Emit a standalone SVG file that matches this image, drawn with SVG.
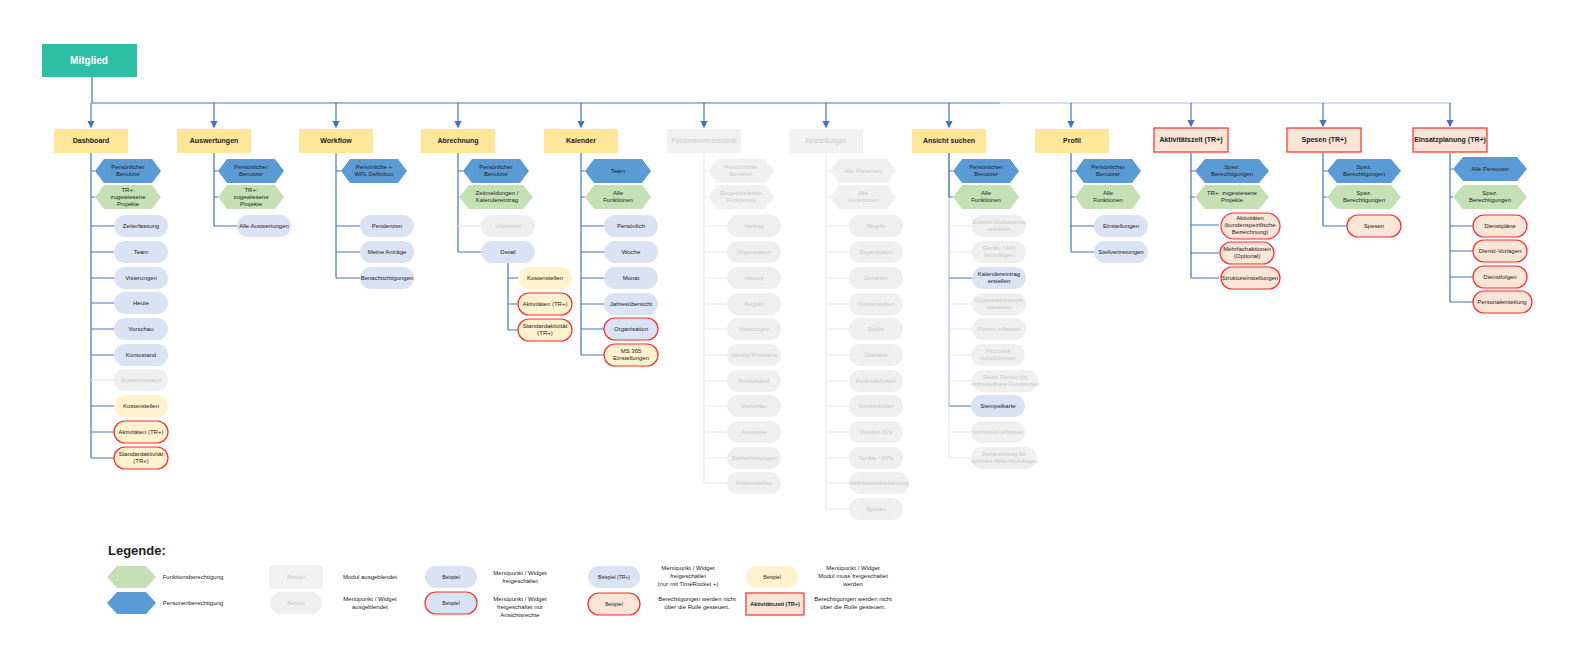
<svg xmlns="http://www.w3.org/2000/svg" xmlns:xlink="http://www.w3.org/1999/xlink" width="1576" height="666" viewBox="0 0 1576 666">
<style>
text{font-family:"Liberation Sans",Arial,sans-serif;font-size:6px;text-anchor:middle;fill:#222}
.h text,text.b{font-weight:bold;font-size:7px}
.hy{fill:#ffe699}.hg{fill:#f2f2f2}.hr{fill:#fbe5d6;stroke:#ff2a2a;stroke-width:1.2}
.hb{fill:#5b9bd5}.hgr{fill:#c5e0b4}.hgy{fill:#f0f0f0}
.pb{fill:#dae3f3}.pg{fill:#efefef}.py{fill:#fff2cc}.pr{fill:#fbe5d6;stroke:#ff2a2a;stroke-width:1.2}
.pbr{fill:#dae3f3;stroke:#ff2a2a;stroke-width:1.2}.pyr{fill:#fff2cc;stroke:#ff2a2a;stroke-width:1.2}
text.g{fill:#c8c8c8}
#c line,#c path{stroke:#4472c4;stroke-width:1.2;fill:none}
#c .l{stroke:#a9bde6}#c .x{stroke:#e8e8e8}
</style>
<defs>
<polygon id="hx" points="-33,0 -24,-12 24,-12 33,0 24,12 -24,12"/>
<polygon id="hw" points="-37,0 -27,-12 27,-12 37,0 27,12 -27,12"/>
<rect id="pl" x="-27" y="-11" width="54" height="22" rx="11"/>
<rect id="pw" x="-31" y="-13" width="62" height="26" rx="13"/>
<marker id="ar" markerWidth="6" markerHeight="6" refX="5" refY="3" orient="auto"><path d="M0,0L6,3L0,6z" fill="#4472c4"/></marker>
</defs>
<rect width="1576" height="666" fill="#fff"/>
<g id="c">
<line x1="92" y1="77" x2="92" y2="103"/>
<line x1="92" y1="103" x2="1000" y2="103"/>
<line class="l" x1="1000" y1="103" x2="1450" y2="103"/>
<line x1="91" y1="103" x2="91" y2="127" marker-end="url(#ar)"/>
<line x1="214" y1="103" x2="214" y2="127" marker-end="url(#ar)"/>
<line x1="336" y1="103" x2="336" y2="127" marker-end="url(#ar)"/>
<line x1="458" y1="103" x2="458" y2="127" marker-end="url(#ar)"/>
<line x1="581" y1="103" x2="581" y2="127" marker-end="url(#ar)"/>
<line x1="704" y1="103" x2="704" y2="127" marker-end="url(#ar)"/>
<line x1="826" y1="103" x2="826" y2="127" marker-end="url(#ar)"/>
<line x1="949" y1="103" x2="949" y2="127" marker-end="url(#ar)"/>
<line x1="1071" y1="103" x2="1071" y2="127" marker-end="url(#ar)"/>
<line x1="1191" y1="103" x2="1191" y2="126" marker-end="url(#ar)"/>
<line x1="1323" y1="103" x2="1323" y2="126" marker-end="url(#ar)"/>
<line x1="1450" y1="103" x2="1450" y2="126" marker-end="url(#ar)"/>
<path d="M91,153V458M91,171H95M91,197H95M91,226H114M91,252H114M91,278H114M91,303H114M91,329H114M91,355H114M91,406H114M91,432H114M91,458H114"/>
<line class="x" x1="91" y1="380" x2="114" y2="380"/>
<path d="M214,153V226M214,171H218M214,197H218M214,226H237"/>
<path d="M336,153V278M336,171H341M336,226H360M336,252H360M336,278H360"/>
<path d="M458,153V252M458,171H463M458,197H459M458,252H481M508,263V330M508,278H518M508,304H518M508,330H518"/>
<line class="x" x1="458" y1="226" x2="481" y2="226"/>
<path d="M581,153V355M581,171H585M581,197H585M581,226H604M581,252H604M581,278H604M581,304H604M581,329H604M581,355H604"/>
<path class="x" d="M704,153V483M704,171H708M704,197H708M704,226H727M704,252H727M704,278H727M704,304H727M704,329H727M704,355H727M704,381H727M704,406H727M704,432H727M704,458H727M704,483H727"/>
<path class="x" d="M826,153V509M826,171H830M826,197H830M826,226H849M826,252H849M826,278H849M826,304H849M826,329H849M826,355H849M826,381H849M826,406H849M826,432H849M826,458H849M826,483H849M826,509H849"/>
<path class="l" d="M949,153V406"/>
<path d="M949,153V197M949,171H953M949,197H953M949,278H972M949,406H972"/>
<path class="x" d="M949,406V458M949,226H972M949,252H972M949,304H972M949,329H972M949,355H972M949,381H972M949,432H972M949,458H972"/>
<path d="M1071,153V252M1071,171H1075M1071,197H1075M1071,226H1094M1071,252H1094"/>
<path d="M1191,153V278M1191,171H1195M1191,197H1195M1191,225H1219M1191,253H1219M1191,278H1219"/>
<path d="M1323,153V226M1323,171H1327M1323,197H1327M1323,226H1347"/>
<path d="M1450,153V302M1450,169H1453M1450,197H1453M1450,226H1473M1450,251H1473M1450,277H1473M1450,302H1473"/>
</g>
<g id="mitglied"><rect x="42" y="44" width="95" height="33" fill="#2dbfa5"/><text x="89" y="64" style="font-size:10px;font-weight:bold;fill:#fff">Mitglied</text></g>
<g class="h">
<g id="h-dashboard"><rect class="hy" x="54" y="129" width="74" height="24"/><text x="91" y="143">Dashboard</text></g>
<g id="h-auswertungen"><rect class="hy" x="177" y="129" width="74" height="24"/><text x="214" y="143">Auswertungen</text></g>
<g id="h-workflow"><rect class="hy" x="299" y="129" width="74" height="24"/><text x="336" y="143">Workflow</text></g>
<g id="h-abrechnung"><rect class="hy" x="421" y="129" width="74" height="24"/><text x="458" y="143">Abrechnung</text></g>
<g id="h-kalender"><rect class="hy" x="544" y="129" width="74" height="24"/><text x="581" y="143">Kalender</text></g>
<g id="h-personen"><rect class="hg" x="667" y="129" width="74" height="24"/><text class="g" x="704" y="143" style="font-weight:normal">Personenverzeichnis</text></g>
<g id="h-einstellungen"><rect class="hg" x="789" y="129" width="74" height="24"/><text class="g" x="826" y="143" style="font-weight:normal">Einstellungen</text></g>
<g id="h-ansicht"><rect class="hy" x="912" y="129" width="74" height="24"/><text x="949" y="143">Ansicht suchen</text></g>
<g id="h-profil"><rect class="hy" x="1035" y="129" width="74" height="24"/><text x="1072" y="143">Profil</text></g>
<g id="h-aktiv"><rect class="hr" x="1154" y="128" width="74" height="24"/><text x="1191" y="142">Aktivitätszeit (TR+)</text></g>
<g id="h-spesen"><rect class="hr" x="1287" y="128" width="74" height="24"/><text x="1324" y="142">Spesen (TR+)</text></g>
<g id="h-einsatz"><rect class="hr" x="1413" y="128" width="74" height="24"/><text x="1450" y="142">Einsatzplanung (TR+)</text></g>
</g>
<!-- Dashboard -->
<g id="d1"><use href="#hx" class="hb" x="128" y="171"/><text x="128" y="169">Persönlicher<tspan x="128" dy="7">Benutzer</tspan></text></g>
<g id="d2"><use href="#hx" class="hgr" x="128" y="197"/><text x="128" y="192">TR+:<tspan x="128" dy="7">zugewiesene</tspan><tspan x="128" dy="7">Projekte</tspan></text></g>
<g id="d3"><use href="#pl" class="pb" x="141" y="226"/><text x="141" y="228">Zeiterfassung</text></g>
<g id="d4"><use href="#pl" class="pb" x="141" y="252"/><text x="141" y="254">Team</text></g>
<g id="d5"><use href="#pl" class="pb" x="141" y="278"/><text x="141" y="280">Visierungen</text></g>
<g id="d6"><use href="#pl" class="pb" x="141" y="303"/><text x="141" y="305">Heute</text></g>
<g id="d7"><use href="#pl" class="pb" x="141" y="329"/><text x="141" y="331">Vorschau</text></g>
<g id="d8"><use href="#pl" class="pb" x="141" y="355"/><text x="141" y="357">Kontostand</text></g>
<g id="d9"><use href="#pl" class="pg" x="141" y="380"/><text class="g" x="141" y="382">Systemzustand</text></g>
<g id="d10"><use href="#pl" class="py" x="141" y="406"/><text x="141" y="408">Kostenstellen</text></g>
<g id="d11"><use href="#pl" class="pyr" x="141" y="432"/><text x="141" y="434">Aktivitäten (TR+)</text></g>
<g id="d12"><use href="#pl" class="pyr" x="141" y="458"/><text x="141" y="456">Standardaktivität<tspan x="141" dy="7">(TR+)</tspan></text></g>
<!-- Auswertungen -->
<g id="a1"><use href="#hx" class="hb" x="251" y="171"/><text x="251" y="169">Persönlicher<tspan x="251" dy="7">Benutzer</tspan></text></g>
<g id="a2"><use href="#hx" class="hgr" x="251" y="197"/><text x="251" y="192">TR+:<tspan x="251" dy="7">zugewiesene</tspan><tspan x="251" dy="7">Projekte</tspan></text></g>
<g id="a3"><use href="#pl" class="pb" x="264" y="226"/><text x="264" y="228">Alle Auswertungen</text></g>
<!-- Workflow -->
<g id="w1"><use href="#hx" class="hb" x="374" y="171"/><text x="374" y="169">Persönliche +<tspan x="374" dy="7">WFL Definition</tspan></text></g>
<g id="w2"><use href="#pl" class="pb" x="387" y="226"/><text x="387" y="228">Pendenzen</text></g>
<g id="w3"><use href="#pl" class="pb" x="387" y="252"/><text x="387" y="254">Meine Anträge</text></g>
<g id="w4"><use href="#pl" class="pb" x="387" y="278"/><text x="387" y="280">Benachtichtigungen</text></g>
<!-- Abrechnung -->
<g id="b1"><use href="#hx" class="hb" x="496" y="171"/><text x="496" y="169">Persönlicher<tspan x="496" dy="7">Benutzer</tspan></text></g>
<g id="b2"><use href="#hw" class="hgr" x="496" y="197"/><text x="497" y="195">Zeitmeldungen /<tspan x="497" dy="7">Kalendereintrag</tspan></text></g>
<g id="b3"><use href="#pl" class="pg" x="508" y="226"/><text class="g" x="508" y="228">Übersicht</text></g>
<g id="b4"><use href="#pl" class="pb" x="508" y="252"/><text x="508" y="254">Detail</text></g>
<g id="b5"><use href="#pl" class="py" x="545" y="278"/><text x="545" y="280">Kostenstellen</text></g>
<g id="b6"><use href="#pl" class="pyr" x="545" y="304"/><text x="545" y="306">Aktivitäten (TR+)</text></g>
<g id="b7"><use href="#pl" class="pyr" x="545" y="330"/><text x="545" y="328">Standardaktivität<tspan x="545" dy="7">(TR+)</tspan></text></g>
<!-- Kalender -->
<g id="k1"><use href="#hx" class="hb" x="618" y="171"/><text x="618" y="173">Team</text></g>
<g id="k2"><use href="#hx" class="hgr" x="618" y="197"/><text x="618" y="195">Alle<tspan x="618" dy="7">Funktionen</tspan></text></g>
<g id="k3"><use href="#pl" class="pb" x="631" y="226"/><text x="631" y="228">Persönlich</text></g>
<g id="k4"><use href="#pl" class="pb" x="631" y="252"/><text x="631" y="254">Woche</text></g>
<g id="k5"><use href="#pl" class="pb" x="631" y="278"/><text x="631" y="280">Monat</text></g>
<g id="k6"><use href="#pl" class="pb" x="631" y="304"/><text x="631" y="306">Jahresübersicht</text></g>
<g id="k7"><use href="#pl" class="pbr" x="631" y="329"/><text x="631" y="331">Organisation</text></g>
<g id="k8"><use href="#pl" class="pyr" x="631" y="355"/><text x="631" y="353">MS 365<tspan x="631" dy="7">Einstellungen</tspan></text></g>
<!-- Personenverzeichnis -->
<g id="p1"><use href="#hx" class="hgy" x="741" y="171"/><text class="g" x="741" y="169">Persönlicher<tspan x="741" dy="7">Benutzer</tspan></text></g>
<g id="p2"><use href="#hx" class="hgy" x="741" y="197"/><text class="g" x="741" y="195">Eingeschränkte<tspan x="741" dy="7">Funktionen</tspan></text></g>
<g id="p3"><use href="#pl" class="pg" x="754" y="226"/><text class="g" x="754" y="228">Vertrag</text></g>
<g id="p4"><use href="#pl" class="pg" x="754" y="252"/><text class="g" x="754" y="254">Organisation</text></g>
<g id="p5"><use href="#pl" class="pg" x="754" y="278"/><text class="g" x="754" y="280">History</text></g>
<g id="p6"><use href="#pl" class="pg" x="754" y="304"/><text class="g" x="754" y="306">Regeln</text></g>
<g id="p7"><use href="#pl" class="pg" x="754" y="329"/><text class="g" x="754" y="331">Visierungen</text></g>
<g id="p8"><use href="#pl" class="pg" x="754" y="355"/><text class="g" x="754" y="357">Identity Providers</text></g>
<g id="p9"><use href="#pl" class="pg" x="754" y="381"/><text class="g" x="754" y="383">Kontostand</text></g>
<g id="p10"><use href="#pl" class="pg" x="754" y="406"/><text class="g" x="754" y="408">Vorschau</text></g>
<g id="p11"><use href="#pl" class="pg" x="754" y="432"/><text class="g" x="754" y="434">Ausweise</text></g>
<g id="p12"><use href="#pl" class="pg" x="754" y="458"/><text class="g" x="754" y="460">Stellvertretungen</text></g>
<g id="p13"><use href="#pl" class="pg" x="754" y="483"/><text class="g" x="754" y="485">Kostenstellen</text></g>
<!-- Einstellungen -->
<g id="e1"><use href="#hx" class="hgy" x="863" y="171"/><text class="g" x="863" y="173">Alle Personen</text></g>
<g id="e2"><use href="#hx" class="hgy" x="863" y="197"/><text class="g" x="863" y="195">Alle<tspan x="863" dy="7">Funktionen</tspan></text></g>
<g id="e3"><use href="#pl" class="pg" x="876" y="226"/><text class="g" x="876" y="228">Regeln</text></g>
<g id="e4"><use href="#pl" class="pg" x="876" y="252"/><text class="g" x="876" y="254">Organisation</text></g>
<g id="e5"><use href="#pl" class="pg" x="876" y="278"/><text class="g" x="876" y="280">Zeitarten</text></g>
<g id="e6"><use href="#pl" class="pg" x="876" y="304"/><text class="g" x="876" y="306">Kostenstellen</text></g>
<g id="e7"><use href="#pl" class="pg" x="876" y="329"/><text class="g" x="876" y="331">Docks</text></g>
<g id="e8"><use href="#pl" class="pg" x="876" y="355"/><text class="g" x="876" y="357">Zeipläne</text></g>
<g id="e9"><use href="#pl" class="pg" x="876" y="381"/><text class="g" x="876" y="383">Feriendefinition</text></g>
<g id="e10"><use href="#pl" class="pg" x="876" y="406"/><text class="g" x="876" y="408">Kundenfelder</text></g>
<g id="e11"><use href="#pl" class="pg" x="876" y="432"/><text class="g" x="876" y="434">Kunden ID's</text></g>
<g id="e12"><use href="#pl" class="pg" x="876" y="458"/><text class="g" x="876" y="460">Geräte / APIs</text></g>
<g id="e13"><rect class="pg" x="849" y="472" width="60" height="22" rx="11"/><text class="g" x="879" y="485">Aktivitätszeiterfassung</text></g>
<g id="e14"><use href="#pl" class="pg" x="876" y="509"/><text class="g" x="876" y="511">Spesen</text></g>
<!-- Ansicht suchen -->
<g id="s1"><use href="#hx" class="hb" x="986" y="171"/><text x="986" y="169">Persönlicher<tspan x="986" dy="7">Benutzer</tspan></text></g>
<g id="s2"><use href="#hx" class="hgr" x="986" y="197"/><text x="986" y="195">Alle<tspan x="986" dy="7">Funktionen</tspan></text></g>
<g id="s3"><use href="#pl" class="pg" x="999" y="226"/><text class="g" x="999" y="224">Externe Dokumente<tspan x="999" dy="7">erstellen</tspan></text></g>
<g id="s4"><use href="#pl" class="pg" x="999" y="252"/><text class="g" x="999" y="250">Geräte / API<tspan x="999" dy="7">hinzufügen</tspan></text></g>
<g id="s5"><use href="#pl" class="pb" x="999" y="278"/><text x="999" y="276">Kalendereintrag<tspan x="999" dy="7">erstellen</tspan></text></g>
<g id="s6"><use href="#pl" class="pg" x="999" y="304"/><text class="g" x="999" y="302">Organisationsrolle<tspan x="999" dy="7">zuweisen</tspan></text></g>
<g id="s7"><use href="#pl" class="pg" x="999" y="329"/><text class="g" x="999" y="331">Person erfassen</text></g>
<g id="s8"><use href="#pl" class="pg" x="998" y="355"/><text class="g" x="998" y="353">Pincodes<tspan x="998" dy="7">zurücksetzen</tspan></text></g>
<g id="s9"><rect class="pg" x="972" y="370" width="66" height="22" rx="11"/><text class="g" x="1005" y="379">Setze Person für<tspan x="1005" dy="7">unzustellbare Pendenzen</tspan></text></g>
<g id="s10"><use href="#pl" class="pb" x="998" y="406"/><text x="998" y="408">Stempelkarte</text></g>
<g id="s11"><use href="#pl" class="pg" x="998" y="432"/><text class="g" x="998" y="434">Vorholzeit erfassen</text></g>
<g id="s12"><rect class="pg" x="971" y="447" width="66" height="22" rx="11"/><text class="g" x="1004" y="456">Zeitarteintrag für<tspan x="1004" dy="7">mehrere MAs hinzufügen</tspan></text></g>
<!-- Profil -->
<g id="r1"><use href="#hx" class="hb" x="1108" y="171"/><text x="1108" y="169">Persönlicher<tspan x="1108" dy="7">Benutzer</tspan></text></g>
<g id="r2"><use href="#hx" class="hgr" x="1108" y="197"/><text x="1108" y="195">Alle<tspan x="1108" dy="7">Funktionen</tspan></text></g>
<g id="r3"><use href="#pl" class="pb" x="1121" y="226"/><text x="1121" y="228">Einstellungen</text></g>
<g id="r4"><use href="#pl" class="pb" x="1121" y="252"/><text x="1121" y="254">Stellvertretungen</text></g>
<!-- Aktivitätszeit -->
<g id="t1"><use href="#hw" class="hb" x="1232" y="171"/><text x="1232" y="169">Spez.<tspan x="1232" dy="7">Berechtigungen</tspan></text></g>
<g id="t2"><use href="#hw" class="hgr" x="1232" y="197"/><text x="1232" y="195">TR+: zugewiesene<tspan x="1232" dy="7">Projekte</tspan></text></g>
<g id="t3"><rect class="pr" x="1221" y="213" width="59" height="26" rx="13"/><text x="1250" y="220">Aktivitäten<tspan x="1250" dy="7">(kundenspezifische</tspan><tspan x="1250" dy="7">Bezeichnung)</tspan></text></g>
<g id="t4"><use href="#pl" class="pr" x="1247" y="253"/><text x="1247" y="251">Mehrfachaktionen<tspan x="1247" dy="7">(Optional)</tspan></text></g>
<g id="t5"><rect class="pr" x="1221" y="267" width="59" height="22" rx="11"/><text x="1250" y="280">Struktureinstellungen</text></g>
<!-- Spesen -->
<g id="q1"><use href="#hw" class="hb" x="1364" y="171"/><text x="1364" y="169">Spez.<tspan x="1364" dy="7">Berechtigungen</tspan></text></g>
<g id="q2"><use href="#hw" class="hgr" x="1364" y="197"/><text x="1364" y="195">Spez.<tspan x="1364" dy="7">Berechtigungen</tspan></text></g>
<g id="q3"><use href="#pl" class="pr" x="1374" y="226"/><text x="1374" y="228">Spesen</text></g>
<!-- Einsatzplanung -->
<g id="z1"><use href="#hw" class="hb" x="1490" y="169"/><text x="1490" y="171">Alle Personen</text></g>
<g id="z2"><use href="#hw" class="hgr" x="1490" y="197"/><text x="1490" y="195">Spez.<tspan x="1490" dy="7">Berechtigungen</tspan></text></g>
<g id="z3"><use href="#pl" class="pr" x="1500" y="226"/><text x="1500" y="228">Dienstpläne</text></g>
<g id="z4"><use href="#pl" class="pr" x="1500" y="251"/><text x="1500" y="253">Dienst-Vorlagen</text></g>
<g id="z5"><use href="#pl" class="pr" x="1500" y="277"/><text x="1500" y="279">Dienstfolgen</text></g>
<g id="z6"><rect class="pr" x="1473" y="291" width="59" height="22" rx="11"/><text x="1502" y="304">Personaleinteilung</text></g>
<!-- Legend -->
<g id="legend">
<text x="108" y="555" style="font-size:13px;font-weight:bold;text-anchor:start">Legende:</text>
<polygon class="hgr" points="107,577 117,566 146,566 156,577 146,588 117,588"/>
<text x="193" y="579">Funktionsberechtigung</text>
<polygon class="hb" points="107,603 117,592 146,592 156,603 146,614 117,614"/>
<text x="193" y="605">Personenberechtigung</text>
<rect class="hg" x="270" y="566" width="52" height="22" stroke="#e6e6e6" stroke-width="0.6"/><text class="g" x="296" y="579" style="font-size:5px">Beispiel</text>
<text x="370" y="579">Modul ausgeblendet</text>
<rect class="pg" x="270" y="592" width="52" height="22" rx="11"/><text class="g" x="296" y="605" style="font-size:5px">Beispiel</text>
<text x="370" y="601">Menüpunkt / Widget<tspan x="370" dy="8">ausgeblendet</tspan></text>
<rect class="pb" x="425" y="566" width="52" height="22" rx="11"/><text x="451" y="579" style="font-size:5px">Beispiel</text>
<text x="520" y="575">Menüpunkt / Widget<tspan x="520" dy="8">freigeschaltet</tspan></text>
<rect class="pbr" x="425" y="592" width="52" height="22" rx="11"/><text x="451" y="605" style="font-size:5px">Beispiel</text>
<text x="520" y="601">Menüpunkt / Widget<tspan x="520" dy="8">freigeschaltet nur</tspan><tspan x="520" dy="8">Ansichtsrechte</tspan></text>
<rect class="pb" x="588" y="566" width="52" height="22" rx="11"/><text x="614" y="579" style="font-size:5px">Beispiel (TR+)</text>
<text x="688" y="570">Menüpunkt / Widget<tspan x="688" dy="8">freigeschaltet</tspan><tspan x="688" dy="8">(nur mit TimeRocket +)</tspan></text>
<rect class="pr" x="588" y="593" width="52" height="22" rx="11"/><text x="614" y="606" style="font-size:5px">Beispiel</text>
<text x="697" y="601">Berechtigungen werden nicht<tspan x="697" dy="8">über die Rolle gesteuert.</tspan></text>
<rect class="py" x="746" y="566" width="52" height="22" rx="11"/><text x="772" y="579" style="font-size:5px">Beispiel</text>
<text x="853" y="570">Menüpunkt / Widget<tspan x="853" dy="8">Modul muss freigeschaltet</tspan><tspan x="853" dy="8">werden</tspan></text>
<rect class="hr" x="746" y="593" width="58" height="22"/><text x="775" y="606" style="font-size:5.5px;font-weight:bold">Aktivitätszeit (TR+)</text>
<text x="853" y="601">Berechtigungen werden nicht<tspan x="853" dy="8">über die Rolle gesteuert.</tspan></text>
</g>
</svg>
